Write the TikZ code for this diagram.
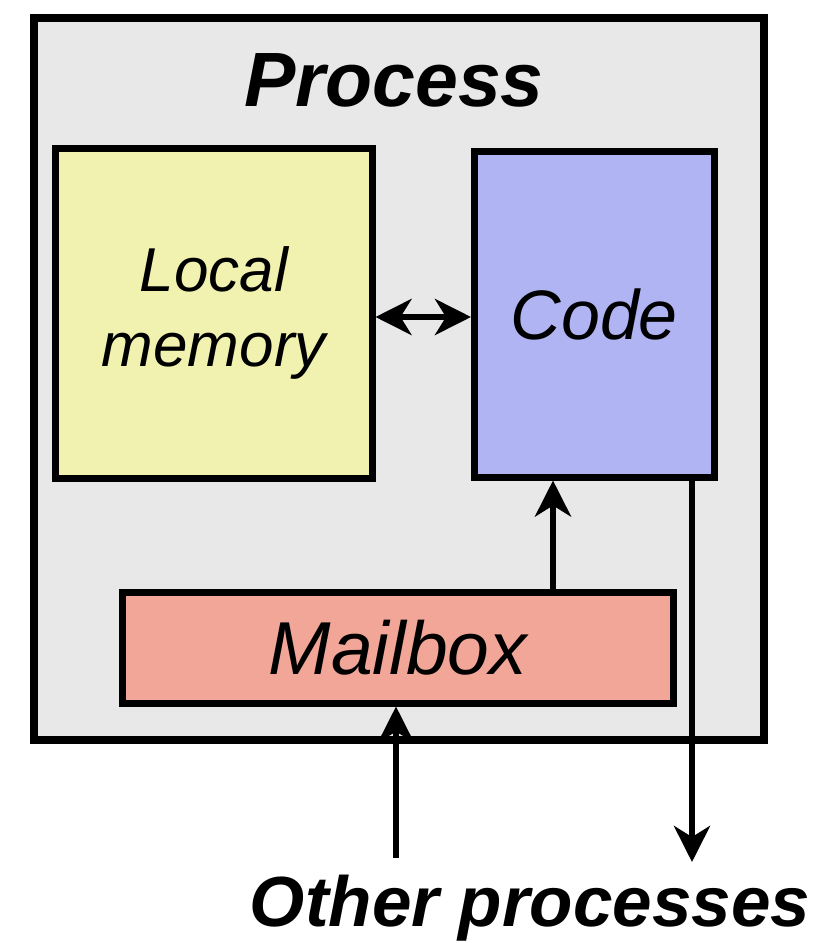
\documentclass[tikz,border=0pt]{standalone}
\usepackage{fontspec}
\setmainfont{Liberation Sans}
\usetikzlibrary{arrows.meta}
\definecolor{procgray}{RGB}{232,232,232}
\definecolor{memyellow}{RGB}{242,242,176}
\definecolor{codeblue}{RGB}{176,180,242}
\definecolor{mailred}{RGB}{242,166,152}
\tikzset{
  box/.style={draw=black, line width=6.5pt, inner sep=0pt, anchor=north west},
  conn/.style={line width=6pt, -{Stealth[length=36pt,width=36pt,inset=11pt]}},
  dconn/.style={line width=6pt, {Stealth[length=36pt,width=36pt,inset=11pt]}-{Stealth[length=36pt,width=36pt,inset=11pt]}},
  lbl/.style={font=\itshape}
}
\begin{document}
\begin{tikzpicture}[x=1pt,y=-1pt]
\useasboundingbox (0,0) rectangle (832,943);
\node[box, line width=7.5pt, fill=procgray, minimum width=730pt, minimum height=722pt] (proc) at (30,14) {};
\node[font=\bfseries\itshape\fontsize{77}{80}\selectfont, anchor=base] (title) at (394,106) {Process};
\node[box, fill=memyellow, minimum width=317pt, minimum height=330pt] (mem) at (52,145) {};
\node[lbl, align=center, font=\itshape\fontsize{62}{75}\selectfont] (memtext) at (mem.center) {Local\\memory};
\node[box, fill=codeblue, minimum width=240pt, minimum height=326pt] (code) at (471,148) {};
\node[lbl, font=\itshape\fontsize{70}{80}\selectfont] (codetext) at (code.center) {Code};
\node[box, fill=mailred, minimum width=551pt, minimum height=111pt] (mail) at (119,589) {};
\node[lbl, font=\itshape\fontsize{75}{80}\selectfont] (mailtext) at (mail.center) {Mailbox};
\node[font=\bfseries\itshape\fontsize{71}{80}\selectfont, anchor=base] (other) at (530,926) {Other processes};
\coordinate (outend) at (692,862);
\coordinate (instart) at (396,858);
\draw[dconn] (mem.east |- 0,317) -- (code.west |- 0,317);
\draw[conn] (mail.north -| 553,0) -- (code.south -| 553,0);
\draw[conn] (code.south -| outend) -- (outend);
\draw[conn] (instart) -- (mail.south -| instart);
\end{tikzpicture}
\end{document}
